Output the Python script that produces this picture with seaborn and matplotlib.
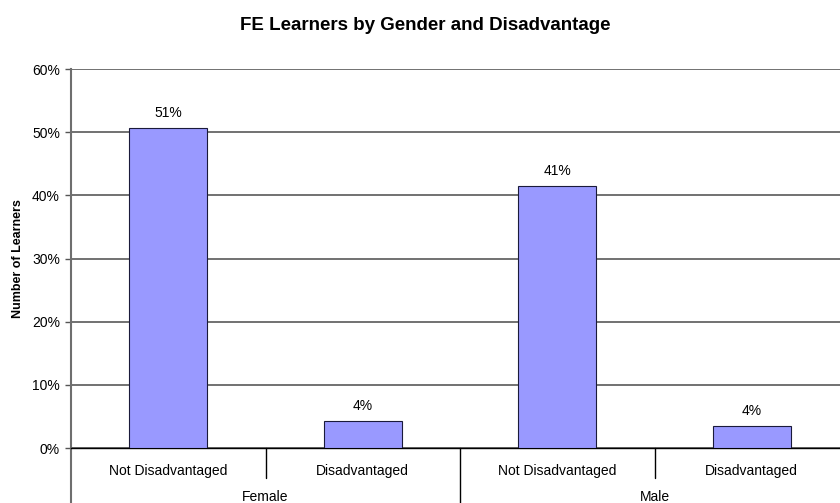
import matplotlib
matplotlib.use("Agg")
import matplotlib.pyplot as plt
import pandas as pd
import seaborn as sns

# Data
genders = ["Female", "Female", "Male", "Male"]
statuses = ["Not Disadvantaged", "Disadvantaged", "Not Disadvantaged", "Disadvantaged"]
shares = [50.7, 4.3, 41.4, 3.5]
value_labels = ["51%", "4%", "41%", "4%"]
group_names = ["Female", "Male"]
y_ticks = [0, 10, 20, 30, 40, 50, 60]

BAR_COLOR = "#9999FF"

sns.set_theme(style="white")
plt.rcParams["font.family"] = ["Liberation Sans", "DejaVu Sans"]
plt.rcParams.update({"text.color": "black", "axes.labelcolor": "black",
                     "ytick.color": "black", "xtick.color": "black"})

df = pd.DataFrame({"gender": genders, "status": statuses, "share": shares})
df["key"] = [f"{g}|{s}" for g, s in zip(genders, statuses)]

fig = plt.figure(figsize=(8.4, 5.03), dpi=100)
ax = fig.add_axes([71 / 840, 55 / 503, 778 / 840, 379 / 503])

sns.barplot(data=df, x="key", y="share", order=list(df["key"]),
            color=BAR_COLOR, edgecolor="#1a1a3a", linewidth=0.8,
            width=0.4, saturation=1, ax=ax, zorder=3)

ax.set_xlim(-0.5, len(shares) - 0.5)
ax.set_ylim(0, 60)
ax.set_yticks(y_ticks)
ax.set_yticklabels([f"{t}%" for t in y_ticks], fontsize=10)
ax.yaxis.grid(True, color="#666666", linewidth=1.3, zorder=0)
ax.set_axisbelow(True)
ax.tick_params(axis="y", length=4, width=1, color="#555555", left=True, pad=4)

for i, (v, lab) in enumerate(zip(shares, value_labels)):
    ax.text(i, v + 1.3, lab, ha="center", va="bottom", fontsize=10)

# category labels (two levels)
ax.set_xticks([])
ax.set_xlabel("")
trans = ax.get_xaxis_transform()
for i, s in enumerate(statuses):
    ax.text(i, -0.062, s, transform=trans, ha="center", va="center", fontsize=10)
for j, g in enumerate(group_names):
    ax.text(2 * j + 0.5, -0.13, g, transform=trans, ha="center", va="center", fontsize=10)
# separators
for x in [0.5, 2.5]:
    ax.plot([x, x], [0, -0.08], transform=trans, color="black", lw=1, clip_on=False)
for x in [1.5]:
    ax.plot([x, x], [0, -0.2], transform=trans, color="black", lw=1, clip_on=False)
ax.plot([-0.5, -0.5], [0, -0.2], transform=trans, color="#6e6e6e", lw=1.5, clip_on=False)

ax.set_ylabel("Number of Learners", fontsize=9, fontweight="bold", labelpad=6)
fig.text(425 / 840, 1 - 26 / 503, "FE Learners by Gender and Disadvantage",
         ha="center", va="center", fontsize=13.5, fontweight="bold")

for side in ["top", "right"]:
    ax.spines[side].set_visible(False)
ax.spines["left"].set_color("#6e6e6e")
ax.spines["left"].set_linewidth(1.5)
ax.spines["bottom"].set_color("black")
ax.spines["bottom"].set_linewidth(1)

fig.savefig("out.png", dpi=100)
